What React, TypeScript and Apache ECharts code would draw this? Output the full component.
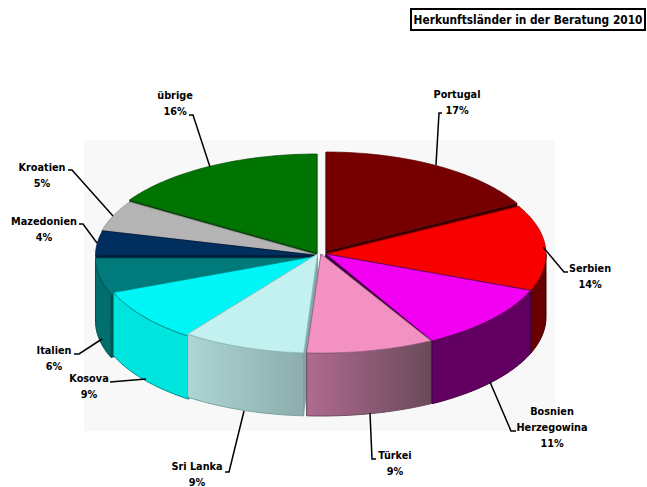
import React, { useEffect, useRef } from "react";
import * as echarts from "echarts";

const TITLE = "Herkunftsländer in der Beratung 2010";
const COUNTRIES = ["Portugal", "Serbien", "Bosnien\nHerzegowina", "Türkei", "Sri Lanka", "Kosova", "Italien", "Mazedonien", "Kroatien", "übrige"];
const SHARES = [17, 14, 11, 9, 9, 9, 6, 4, 5, 16];

const TOP_COLORS = ["#760000", "#f80000", "#f200f2", "#f291c2", "#c3f1f0", "#00f6f6", "#007a7a", "#002e5e", "#b4b4b4", "#007400"];
const TOP_EDGES = ["#5a0000", "#a00000", "#600060", "#a06088", "#8fc0c0", "#008080", "#004c4c", "#001c3c", "#909090", "#004c00"];
const WALL_COLORS: any[] = [
  "#660000",
  "#680000",
  "#620062",
  ["#b06a90", "#6a4a5a"],
  ["#add6d4", "#8cadab"],
  "#00e4de",
  "#006e6c",
  "#002448",
  "#909090",
  "#005a00",
];
const WALL_EDGES = ["#3a0000", "#3a0000", "#3f003f", "#6a4a5a", "#7ba0a0", "#008a8a", "#004c4c", "#001c3c", "#707070", "#003c00"];
const CUT_COLORS = ["#3a0000", "#500000", "#400040", "#6a4a5a", "#80a8a8", "#009090", "#004c4c", "#001c3c", "#707070", "#003c00"];

// Per-slice pie placement (the slices are pulled apart by slightly different amounts)
const SLICE_CX = [326, 326, 326, 321, 317.5, 317, 317.5, 317.5, 317, 317];
const SLICE_CY = [251, 254, 254, 254, 254, 256, 258, 255.5, 255, 253];
const SLICE_RX = [218, 220, 220, 228, 221, 219, 222, 222, 222, 222];
const RY = 99;
const DEPTH = 63;

// Label anchor [centre x, first-line centre y] and leader line points
const LABEL_POS = [[457, 94], [590, 268], [552, 411], [395, 455], [197, 466], [89, 378], [54, 350], [44, 221], [42, 167], [175, 95]];
const LEADERS = [
  [[442, 113], [439, 113], [436, 165]],
  [[568, 272], [564, 272], [543, 247]],
  [[516, 431], [511, 431], [490, 382]],
  [[376, 459], [372, 459], [370, 413]],
  [[225, 472], [229, 472], [244, 411]],
  [[110, 382], [146, 379]],
  [[74, 354], [79, 354], [102, 339]],
  [[79, 224], [83, 224], [97, 243]],
  [[68, 170], [72, 170], [113, 216]],
  [[189, 115], [193, 115], [210, 167]],
];

const FONT = '"DejaVu Sans Condensed", "DejaVu Sans", sans-serif';
const TOTAL = SHARES.reduce((a, b) => a + b, 0);
const startAngle = (i: number) => (SHARES.slice(0, i).reduce((a, b) => a + b, 0) / TOTAL) * 360;
const DRAW_ORDER = SHARES.map((_, i) => i).sort((a, b) => {
  const mid = (k: number) => ((startAngle(k) + SHARES[k] / TOTAL * 180) * Math.PI) / 180;
  return Math.cos(mid(b)) - Math.cos(mid(a));
});

function rim(i: number, a0: number, a1: number) {
  const pts: number[][] = [];
  const n = Math.max(2, Math.ceil(a1 - a0));
  for (let k = 0; k <= n; k++) {
    const t = ((a0 + ((a1 - a0) * k) / n) * Math.PI) / 180;
    pts.push([SLICE_CX[i] + SLICE_RX[i] * Math.sin(t), SLICE_CY[i] - RY * Math.cos(t)]);
  }
  return pts;
}

function fillOf(c: any) {
  return Array.isArray(c)
    ? new echarts.graphic.LinearGradient(0, 0, 1, 0, [
        { offset: 0, color: c[0] },
        { offset: 1, color: c[1] },
      ])
    : c;
}

function renderSlice(_: any, api: any) {
  const i = api.value(0) as number;
  const a0 = startAngle(i);
  const a1 = a0 + (api.value(1) / TOTAL) * 360;
  const apex = [SLICE_CX[i], SLICE_CY[i]];
  const down = (p: number[]) => [p[0], p[1] + DEPTH];
  const children: any[] = [];
  const edge0 = rim(i, a0, a0)[0];
  const edge1 = rim(i, a1, a1)[0];
  [edge0, edge1].forEach((e) => {
    children.push({
      type: "polygon",
      shape: { points: [apex, e, down(e), down(apex)] },
      style: { fill: CUT_COLORS[i], stroke: CUT_COLORS[i], lineWidth: 0.5 },
    });
  });
  const w0 = Math.max(a0, 90);
  const w1 = Math.min(a1, 270);
  if (w1 > w0) {
    const r = rim(i, w0, w1);
    children.push({
      type: "polygon",
      shape: { points: [...r, ...r.slice().reverse().map(down)] },
      style: { fill: fillOf(WALL_COLORS[i]), stroke: WALL_EDGES[i], lineWidth: 1 },
    });
  }
  children.push({
    type: "polygon",
    shape: { points: [apex, ...rim(i, a0, a1)] },
    style: { fill: TOP_COLORS[i], stroke: TOP_EDGES[i], lineWidth: 0.7, lineJoin: "round" },
  });
  return { type: "group", children };
}

export default function App() {
  const ref = useRef<HTMLDivElement>(null);
  useEffect(() => {
    document.body.style.margin = "0";
    const chart = echarts.init(ref.current!, undefined, { renderer: "svg" });
    const textBase = { fontFamily: FONT, fontWeight: "bold", fontSize: 10.8, fill: "#000", align: "center", verticalAlign: "middle" };
    const graphics: any[] = [
      { type: "rect", z: 0, shape: { x: 84, y: 140, width: 471, height: 291 }, style: { fill: "#f8f8f8" } },
      { type: "rect", z: 10, shape: { x: 411, y: 9, width: 234, height: 21 }, style: { fill: "#fff", stroke: "#000", lineWidth: 2 } },
      { type: "text", z: 11, x: 528, y: 20, style: { ...textBase, fontSize: 11.8, text: TITLE } },
    ];
    COUNTRIES.forEach((name, i) => {
      const lines = [...name.split("\n"), `${SHARES[i]}%`];
      lines.forEach((line, k) => {
        graphics.push({ type: "text", z: 11, x: LABEL_POS[i][0], y: LABEL_POS[i][1] + k * 16, style: { ...textBase, text: line } });
      });
      graphics.push({
        type: "polyline",
        z: 10,
        shape: { points: LEADERS[i] },
        style: { stroke: "#000", lineWidth: 1.5, fill: "none" },
      });
    });
    chart.setOption({
      animation: false,
      backgroundColor: "#fff",
      graphic: graphics,
      series: [
        {
          type: "custom",
          coordinateSystem: "none",
          z: 5,
          silent: true,
          renderItem: renderSlice,
          data: DRAW_ORDER.map((i) => [i, SHARES[i]]),
        },
      ],
    });
    return () => chart.dispose();
  }, []);
  return <div ref={ref} style={{ width: 647, height: 487, position: "absolute", left: 0, top: 0 }} />;
}
